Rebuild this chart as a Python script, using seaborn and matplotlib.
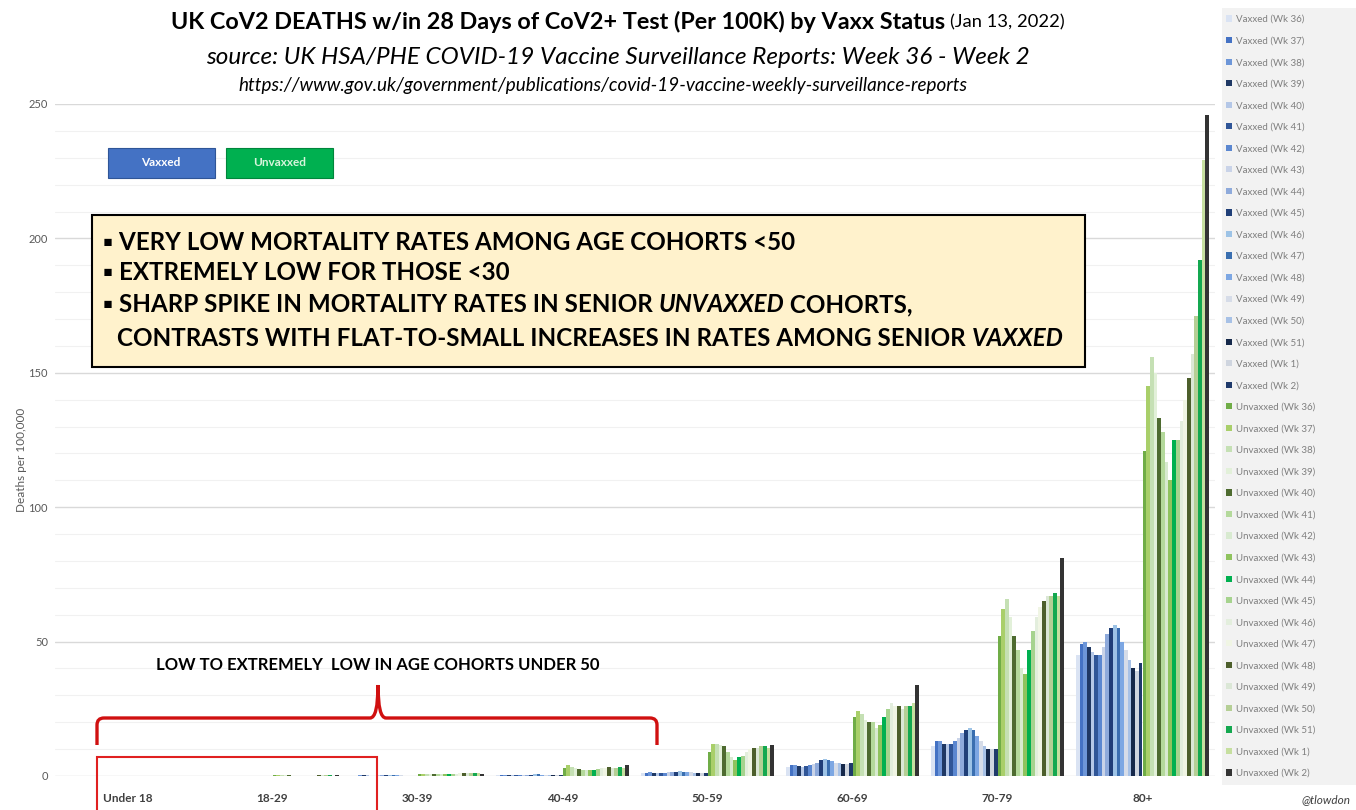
import pandas as pd
import seaborn as sns
import matplotlib.pyplot as plt
from matplotlib.patches import Rectangle, Patch, PathPatch
from matplotlib.path import Path

W, H = 1356, 810

age_groups = ["Under 18", "18-29", "30-39", "40-49", "50-59", "60-69", "70-79", "80+"]
weeks = ["36", "37", "38", "39", "40", "41", "42", "43", "44", "45",
         "46", "47", "48", "49", "50", "51", "1", "2"]

# deaths per 100k, one value per week (Wk36 ... Wk2)
vax_u18 = [0.01, 0.0, 0.01, 0.0, 0.01, 0.0, 0.01, 0.01, 0.0, 0.01, 0.0, 0.01, 0.0, 0.0, 0.01, 0.0, 0.01, 0.0]
unvax_u18 = [0.03, 0.03, 0.04, 0.03, 0.02, 0.03, 0.02, 0.03, 0.03, 0.04, 0.03, 0.02, 0.03, 0.03, 0.02, 0.03, 0.03, 0.02]
vax_18_29 = [0.03, 0.04, 0.04, 0.05, 0.05, 0.04, 0.05, 0.06, 0.06, 0.07, 0.06, 0.06, 0.05, 0.05, 0.04, 0.04, 0.04, 0.05]
unvax_18_29 = [0.2, 0.25, 0.25, 0.22, 0.2, 0.18, 0.15, 0.15, 0.14, 0.15, 0.16, 0.18, 0.2, 0.2, 0.22, 0.2, 0.18, 0.2]
vax_30_39 = [0.15, 0.18, 0.2, 0.2, 0.2, 0.18, 0.18, 0.2, 0.22, 0.25, 0.25, 0.22, 0.2, 0.2, 0.18, 0.17, 0.15, 0.16]
unvax_30_39 = [0.6, 0.8, 0.9, 0.85, 0.8, 0.7, 0.65, 0.6, 0.7, 0.8, 0.9, 1.0, 1.1, 1.1, 1.0, 1.2, 1.0, 0.9]
vax_40_49 = [0.35, 0.4, 0.4, 0.4, 0.45, 0.4, 0.4, 0.45, 0.5, 0.55, 0.6, 0.6, 0.55, 0.5, 0.5, 0.45, 0.45, 0.5]
unvax_40_49 = [3.0, 4.0, 3.5, 3.0, 2.5, 2.4, 2.2, 2.3, 2.4, 2.5, 2.8, 3.0, 3.2, 2.8, 3.0, 3.2, 3.0, 4.0]
vax_50_59 = [1.2, 1.3, 1.4, 1.2, 1.3, 1.2, 1.3, 1.4, 1.5, 1.6, 1.7, 1.6, 1.5, 1.4, 1.3, 1.2, 1.2, 1.3]
unvax_50_59 = [9, 12, 12, 11.5, 11, 9, 7, 6, 7, 7.5, 9, 10, 10.5, 10.5, 11, 11, 10.5, 11.5]
vax_60_69 = [3.5, 4, 4.2, 3.6, 3.5, 3.8, 4, 4.5, 5, 6, 6.2, 6, 5.5, 5, 4.8, 4.5, 4.6, 4.8]
unvax_60_69 = [22, 24, 23, 21, 20, 20, 18, 19, 22, 25, 27, 26, 26, 25, 26, 26, 27, 34]
vax_70_79 = [11, 13, 13, 12, 12, 12, 13, 14, 16, 17, 18, 17, 15, 13, 11, 10, 10, 10]
unvax_70_79 = [52, 62, 66, 59, 52, 47, 40, 38, 47, 54, 59, 63, 65, 67, 67, 68, 67, 81]
vax_80 = [45, 49, 50, 48, 46, 45, 45, 48, 53, 55, 56, 55, 50, 47, 43, 40, 39, 42]
unvax_80 = [121, 145, 156, 150, 133, 128, 117, 110, 125, 125, 132, 140, 148, 157, 171, 192, 229, 246]

vax_colors = ["#dae3f3", "#4472c4", "#6d96d8", "#1f3864", "#b4c7e7", "#2f5597",
              "#5b87d0", "#c9d3e8", "#8eaadb", "#203f78", "#9dc3e6", "#3a6fb0",
              "#7da7e3", "#d6dce8", "#a7c1e6", "#15284a", "#cfd5df", "#1f3a6b"]
unvax_colors = ["#70ad47", "#a9cf6a", "#c5e0b4", "#e2f0d9", "#4e6b30", "#b4d99b",
                "#d8ead0", "#8fc35e", "#00b050", "#a6d38e", "#e3eedd", "#f0f5e4",
                "#4d5f2c", "#dbe7d6", "#b5cf95", "#14a850", "#c6df9f", "#333333"]

vax_all = [vax_u18, vax_18_29, vax_30_39, vax_40_49, vax_50_59, vax_60_69, vax_70_79, vax_80]
unvax_all = [unvax_u18, unvax_18_29, unvax_30_39, unvax_40_49, unvax_50_59, unvax_60_69, unvax_70_79, unvax_80]

vax_labels = [f"Vaxxed (Wk {w})" for w in weeks]
unvax_labels = [f"Unvaxxed (Wk {w})" for w in weeks]
series_order = vax_labels + unvax_labels
palette = dict(zip(series_order, vax_colors + unvax_colors))

rows = []
for age, vals in zip(age_groups, vax_all):
    for lab, v in zip(vax_labels, vals):
        rows.append((age, lab, v))
for age, vals in zip(age_groups, unvax_all):
    for lab, v in zip(unvax_labels, vals):
        rows.append((age, lab, v))
df = pd.DataFrame(rows, columns=["age", "series", "rate"])

sns.set_theme(style="white")
plt.rcParams["font.family"] = ["Lato", "DejaVu Sans"]


def fx(x):
    return x / W


def fy(y):
    return 1 - y / H


fig = plt.figure(figsize=(W / 100, H / 100), dpi=100)
ax = fig.add_axes([fx(55), fy(776), (1215 - 55) / W, (776 - 104) / H])

sns.barplot(data=df, x="age", y="rate", hue="series", order=age_groups,
            hue_order=series_order, palette=palette, width=0.92, saturation=1,
            linewidth=0, errorbar=None, legend=False, ax=ax)

ax.set_xlim(-0.5, 7.5)
ax.set_ylim(0, 250)
ax.set_yticks(range(0, 251, 50))
ax.set_yticks(range(0, 251, 10), minor=True)
ax.yaxis.grid(True, which="major", color="#d9d9d9", lw=1)
ax.yaxis.grid(True, which="minor", color="#f1f1f1", lw=0.8)
ax.set_axisbelow(True)
for s in ax.spines.values():
    s.set_visible(False)
ax.set_xlabel("")
ax.set_ylabel("")
ax.tick_params(axis="y", which="both", length=0, labelsize=8, labelcolor="#595959", pad=5)
ax.tick_params(axis="x", length=0, labelsize=8.5, labelcolor="#404040", pad=12)
for t in ax.get_xticklabels():
    t.set_fontweight("bold")

fig.text(fx(22), fy(460), "Deaths per 100,000", rotation=90, fontsize=8.5,
         color="#595959", ha="center", va="center")

renderer = fig.canvas.get_renderer()


def pieces(x, y, parts, ha="left", **common):
    # draw differently styled chunks next to each other (x, y in pixels)
    texts = []
    for txt, kw in parts:
        t = fig.text(0, fy(y), txt, va="center", **common, **kw)
        texts.append(t)
    widths = [t.get_window_extent(renderer).width for t in texts]
    total = sum(widths)
    cur = x - total / 2 if ha == "center" else x
    for t, w in zip(texts, widths):
        t.set_x(fx(cur))
        cur += w


title_parts = [("UK CoV2 DEATHS w/in 28 Days of CoV2+ Test (Per 100K) by Vaxx Status ",
                dict(fontsize=16.8, fontweight="bold")),
               ("(Jan 13, 2022)", dict(fontsize=13.2))]
pieces(618, 22, title_parts, ha="center", color="black")
fig.text(fx(618), fy(57), "source: UK HSA/PHE COVID-19 Vaccine Surveillance Reports: Week 36 - Week 2",
         fontsize=17.5, style="italic", ha="center", va="center", color="black")
fig.text(fx(603), fy(85), "https://www.gov.uk/government/publications/covid-19-vaccine-weekly-surveillance-reports",
         fontsize=13.6, style="italic", ha="center", va="center", color="black")

# Vaxxed / Unvaxxed key boxes
fig.add_artist(Rectangle((fx(108), fy(178)), 107 / W, 30 / H, transform=fig.transFigure,
                         facecolor="#4472c4", edgecolor="#2f5597", lw=0.8))
fig.text(fx(161), fy(163), "Vaxxed", fontsize=8.5, fontweight="bold", color="white",
         ha="center", va="center")
fig.add_artist(Rectangle((fx(226), fy(178)), 107 / W, 30 / H, transform=fig.transFigure,
                         facecolor="#00b050", edgecolor="#00863c", lw=0.8))
fig.text(fx(280), fy(163), "Unvaxxed", fontsize=8.5, fontweight="bold", color="#d8f5dc",
         ha="center", va="center")

# yellow annotation box
fig.add_artist(Rectangle((fx(92), fy(367)), (1085 - 92) / W, (367 - 215) / H,
                         transform=fig.transFigure, facecolor="#fff2cc",
                         edgecolor="black", lw=1.5))
bold = dict(fontweight="bold")
bolditalic = dict(fontweight="bold", style="italic")
common = dict(fontsize=17.4, color="black")
pieces(103, 242, [("\u25aa VERY LOW MORTALITY RATES AMONG AGE COHORTS <50", bold)], **common)
pieces(103, 273, [("\u25aa EXTREMELY LOW FOR THOSE <30", bold)], **common)
pieces(103, 305, [("\u25aa SHARP SPIKE IN MORTALITY RATES IN SENIOR ", bold),
                  ("UNVAXXED", bolditalic), (" COHORTS,", bold)], **common)
pieces(117, 338, [("CONTRASTS WITH FLAT-TO-SMALL INCREASES IN RATES AMONG SENIOR ", bold),
                  ("VAXXED", bolditalic)], **common)

fig.text(fx(378), fy(665), "LOW TO EXTREMELY  LOW IN AGE COHORTS UNDER 50", fontsize=12,
         fontweight="bold", ha="center", va="center", color="black")

# red brace
r = 7
verts = [(97, 745), (97, 718 + r), (97, 718), (97 + r, 718), (370, 718),
         (378, 718), (378, 685), (378, 718), (386, 718), (650, 718),
         (657, 718), (657, 718 + r), (657, 745)]
codes = [Path.MOVETO, Path.LINETO, Path.CURVE3, Path.CURVE3, Path.LINETO,
         Path.CURVE3, Path.CURVE3, Path.CURVE3, Path.CURVE3, Path.LINETO,
         Path.CURVE3, Path.CURVE3, Path.LINETO]
brace = Path([(fx(a), fy(b)) for a, b in verts], codes)
fig.add_artist(PathPatch(brace, transform=fig.transFigure, facecolor="none",
                         edgecolor="#d01010", lw=2.4))
fig.add_artist(Rectangle((fx(97), fy(812)), (377 - 97) / W, (812 - 757) / H,
                         transform=fig.transFigure, facecolor="none",
                         edgecolor="#e02020", lw=1.5, clip_on=False))

# legend panel
fig.add_artist(Rectangle((fx(1222), fy(785)), (W - 1222) / W, (785 - 8) / H,
                         transform=fig.transFigure, facecolor="#f2f2f2", edgecolor="none"))
handles = [Patch(facecolor=palette[s], edgecolor="none", label=s) for s in series_order]
leg = fig.legend(handles=handles, loc="upper left", bbox_to_anchor=(fx(1226), fy(15)),
                 frameon=False, fontsize=7, handlelength=0.6, handleheight=0.6,
                 handletextpad=0.4, labelspacing=1.29, borderaxespad=0, borderpad=0)
for t in leg.get_texts():
    t.set_color("#7f7f7f")

fig.text(fx(1350), fy(800), "@tlowdon", fontsize=8.5, style="italic", ha="right",
         va="center", color="#404040")

fig.savefig("out.png", dpi=100)
